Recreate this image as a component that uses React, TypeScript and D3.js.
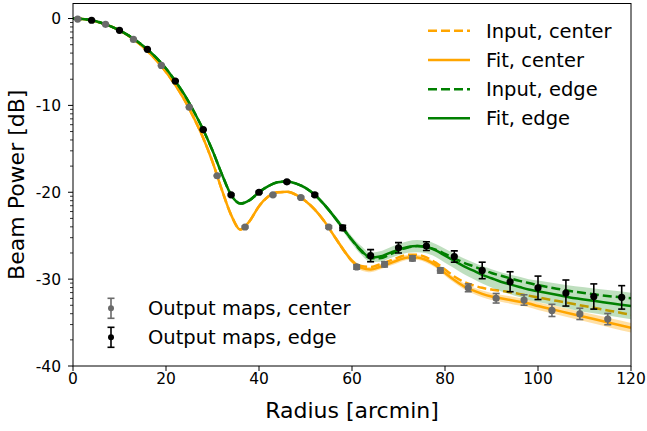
import React from 'react';
import * as d3 from 'd3';

// Model curves, sampled in radius (arcmin)
const fitRadius = [0,2,4,6,8,10,12,14,16,18,20,22,24,26,28,30,32,34,36,38,40,42,44,46,48,50,52,54,56,58,60,62,64,66,68,70,72,74,76,78,80,82,84,86,88,90,92,94,96,98,100,104,108,112,116,120];

const fitCenter = [0,-0.05,-0.22,-0.5,-0.88,-1.38,-2.0,-2.8,-3.75,-4.85,-6.15,-7.65,-9.4,-11.45,-13.75,-16.5,-19.7,-22.6,-24.3,-23.3,-21.6,-20.5,-20.0,-19.95,-20.3,-21.0,-22.0,-23.3,-24.9,-26.5,-27.9,-28.7,-28.9,-28.6,-28.2,-27.8,-27.5,-27.5,-27.8,-28.4,-29.3,-30.1,-30.8,-31.3,-31.7,-32.0,-32.2,-32.4,-32.6,-32.8,-33.1,-33.6,-34.1,-34.6,-35.1,-35.6];

const inputCenter = [0,-0.05,-0.22,-0.5,-0.88,-1.38,-2.0,-2.8,-3.75,-4.85,-6.15,-7.65,-9.4,-11.45,-13.75,-16.5,-19.7,-22.6,-24.3,-23.3,-21.6,-20.5,-20.0,-19.95,-20.3,-21.0,-22.0,-23.3,-24.9,-26.5,-27.9,-28.5,-28.6,-28.3,-27.9,-27.5,-27.2,-27.2,-27.5,-28.1,-28.9,-29.7,-30.3,-30.7,-31.0,-31.2,-31.35,-31.5,-31.7,-31.9,-32.1,-32.5,-32.9,-33.3,-33.7,-34.1];

const fitEdge = [0,-0.05,-0.2,-0.48,-0.87,-1.36,-1.97,-2.7,-3.55,-4.55,-5.75,-7.2,-8.8,-10.7,-12.8,-15.2,-17.9,-20.3,-21.3,-20.9,-20.0,-19.3,-18.85,-18.75,-19.0,-19.5,-20.3,-21.4,-22.7,-24.1,-25.5,-26.7,-27.5,-27.4,-27.0,-26.6,-26.3,-26.2,-26.3,-26.7,-27.3,-27.9,-28.5,-29.0,-29.5,-29.9,-30.3,-30.6,-30.9,-31.2,-31.4,-31.8,-32.2,-32.5,-32.8,-33.1];

const inputEdge = [0,-0.05,-0.2,-0.48,-0.87,-1.36,-1.97,-2.7,-3.55,-4.55,-5.75,-7.2,-8.8,-10.7,-12.8,-15.2,-17.9,-20.3,-21.3,-20.9,-20.0,-19.3,-18.85,-18.75,-19.0,-19.5,-20.3,-21.4,-22.7,-24.1,-25.5,-26.8,-27.6,-27.6,-27.2,-26.7,-26.35,-26.2,-26.3,-26.6,-27.1,-27.6,-28.1,-28.5,-28.9,-29.3,-29.6,-29.9,-30.2,-30.45,-30.7,-31.1,-31.45,-31.75,-32.0,-32.2];

// Half-width of the fit uncertainty bands (dB)
const bandCenter = [0.1,0.1,0.1,0.1,0.1,0.1,0.1,0.1,0.1,0.1,0.1,0.1,0.1,0.1,0.1,0.1,0.1,0.1,0.1,0.1,0.1,0.1,0.1,0.1,0.1,0.12,0.15,0.18,0.2,0.25,0.28,0.3,0.3,0.3,0.3,0.3,0.3,0.3,0.3,0.3,0.32,0.33,0.35,0.36,0.38,0.4,0.4,0.42,0.43,0.44,0.45,0.47,0.5,0.52,0.54,0.55];

const bandEdge = [0.12,0.12,0.12,0.12,0.12,0.12,0.12,0.12,0.12,0.12,0.12,0.12,0.12,0.12,0.12,0.12,0.12,0.12,0.12,0.12,0.12,0.12,0.12,0.12,0.12,0.15,0.2,0.25,0.3,0.35,0.42,0.5,0.55,0.6,0.62,0.65,0.67,0.7,0.72,0.75,0.8,0.85,0.9,0.95,1.0,1.05,1.1,1.13,1.16,1.2,1.23,1.3,1.37,1.43,1.48,1.52];

// Output map measurements
const centerRadius = [1,7,13,19,25,31,37,43,49,55,61,67,73,79,85,91,97,103,109,115];
const centerPower = [-0.06,-0.67,-2.4,-5.4,-10.2,-18.1,-24.0,-20.3,-20.6,-24.0,-28.6,-28.3,-27.6,-29.0,-31.0,-32.2,-32.4,-33.6,-34.0,-34.6];
const centerErr = [0.05,0.05,0.05,0.05,0.05,0.05,0.1,0.1,0.1,0.15,0.25,0.3,0.3,0.3,0.45,0.55,0.6,0.7,0.65,0.65];

const edgeRadius = [4,10,16,22,28,34,40,46,52,58,64,70,76,82,88,94,100,106,112,118];
const edgePower = [-0.2,-1.36,-3.55,-7.2,-12.8,-20.3,-20.0,-18.8,-20.3,-24.1,-27.3,-26.4,-26.2,-27.4,-29.0,-30.3,-31.0,-31.6,-32.0,-32.1];
const edgeErr = [0.05,0.05,0.05,0.05,0.05,0.1,0.1,0.1,0.15,0.3,0.7,0.6,0.5,0.65,0.95,1.15,1.35,1.5,1.45,1.35];

const xTicks = [0,20,40,60,80,100,120];
const yTicks = [0,-10,-20,-30,-40];
const yDecades = [0,-10,-20,-30];
const minorFactors = [2,3,4,5,6,7,8,9];

const legendLines = ['Input, center','Fit, center','Input, edge','Fit, edge'];
const legendPoints = ['Output maps, center','Output maps, edge'];

const ORANGE = '#ffa500';
const GREEN = '#008000';
const GRAY = '#6a6a6a';
const FONT = 'DejaVu Sans, sans-serif';

export default function App() {
  const W = 647, H = 431;
  const L = 73, R = 631, T = 3.5, B = 366;
  const x = d3.scaleLinear().domain([0, 120]).range([L, R]);
  const y = d3.scaleLinear().domain([-40, 1.73]).range([B, T]);

  const mkLine = (vals: number[]) =>
    d3.line<number>().x((_, i) => x(fitRadius[i])).y(d => y(d)).curve(d3.curveMonotoneX)(vals) || '';
  const mkBand = (vals: number[], hw: number[]) =>
    d3.area<number>()
      .x((_, i) => x(fitRadius[i]))
      .y0((d, i) => y(d - hw[i]))
      .y1((d, i) => y(d + hw[i]))
      .curve(d3.curveMonotoneX)(vals) || '';

  const minorTicks: number[] = [];
  yDecades.forEach(d => minorFactors.forEach(k => minorTicks.push(d + 10 * Math.log10(k / 10))));

  const errPts = (rs: number[], ps: number[], es: number[], color: string) =>
    rs.map((r, i) => {
      const cx = x(r), cy = y(ps[i]);
      const y0 = y(ps[i] - es[i]), y1 = y(ps[i] + es[i]);
      return (
        <g key={i}>
          <line x1={cx} x2={cx} y1={y0} y2={y1} stroke={color} strokeWidth={1.6} />
          <line x1={cx - 3.5} x2={cx + 3.5} y1={y0} y2={y0} stroke={color} strokeWidth={1.6} />
          <line x1={cx - 3.5} x2={cx + 3.5} y1={y1} y2={y1} stroke={color} strokeWidth={1.6} />
          <circle cx={cx} cy={cy} r={3.6} fill={color} />
        </g>
      );
    });

  const legendStyles = [
    { color: ORANGE, dash: '9,4' },
    { color: ORANGE, dash: undefined },
    { color: GREEN, dash: '9,4' },
    { color: GREEN, dash: undefined },
  ];
  const legendRowsY = [30.7, 60, 89.3, 118.3];
  const pointRowsY = [308.3, 337.3];
  const pointColors = [GRAY, '#000000'];

  return (
    <svg width={W} height={H} style={{ position: 'absolute', left: 0, top: 0, background: '#fff' }} fontFamily={FONT}>
      <defs>
        <clipPath id="plotclip">
          <rect x={L} y={T} width={R - L} height={B - T} />
        </clipPath>
      </defs>
      <rect x={0} y={0} width={W} height={H} fill="#fff" />
      <g clipPath="url(#plotclip)">
        <path d={mkBand(fitCenter, bandCenter)} fill={ORANGE} opacity={0.35} />
        <path d={mkLine(inputCenter)} fill="none" stroke={ORANGE} strokeWidth={2.5} strokeDasharray="9,4" />
        <path d={mkLine(fitCenter)} fill="none" stroke={ORANGE} strokeWidth={2.5} />
        <path d={mkBand(fitEdge, bandEdge)} fill={GREEN} opacity={0.25} />
        <path d={mkLine(inputEdge)} fill="none" stroke={GREEN} strokeWidth={2.5} strokeDasharray="9,4" />
        <path d={mkLine(fitEdge)} fill="none" stroke={GREEN} strokeWidth={2.5} />
        {errPts(centerRadius, centerPower, centerErr, GRAY)}
        {errPts(edgeRadius, edgePower, edgeErr, '#000')}
      </g>
      {/* axes frame */}
      <rect x={L} y={T} width={R - L} height={B - T} fill="none" stroke="#000" strokeWidth={1} />
      {/* x ticks */}
      {xTicks.map(t => (
        <g key={t}>
          <line x1={x(t)} x2={x(t)} y1={B} y2={B + 5} stroke="#000" strokeWidth={1} />
          <text x={x(t)} y={384} fontSize={15.5} textAnchor="middle" fill="#000">{t}</text>
        </g>
      ))}
      {/* y ticks */}
      {yTicks.map(t => (
        <g key={t}>
          <line x1={L - 5} x2={L} y1={y(t)} y2={y(t)} stroke="#000" strokeWidth={1} />
          <text x={61} y={y(t) + 5.5} fontSize={15.5} textAnchor="end" fill="#000">{t === 0 ? '0' : '-' + Math.abs(t)}</text>
        </g>
      ))}
      {minorTicks.map((t, i) => (
        <line key={i} x1={L - 3} x2={L} y1={y(t)} y2={y(t)} stroke="#000" strokeWidth={0.8} />
      ))}
      {/* axis labels */}
      <text x={(L + R) / 2} y={418} fontSize={22} textAnchor="middle" fill="#000">Radius [arcmin]</text>
      <text transform={`translate(24,${(T + B) / 2}) rotate(-90)`} fontSize={22} textAnchor="middle" fill="#000">Beam Power [dB]</text>
      {/* legend: lines */}
      {legendLines.map((s, i) => (
        <g key={s}>
          <line x1={428} x2={470} y1={legendRowsY[i]} y2={legendRowsY[i]} stroke={legendStyles[i].color} strokeWidth={2.5} strokeDasharray={legendStyles[i].dash} />
          <text x={486} y={legendRowsY[i] + 7} fontSize={19.5} fill="#000">{s}</text>
        </g>
      ))}
      {/* legend: points */}
      {legendPoints.map((s, i) => {
        const cy = pointRowsY[i];
        const c = pointColors[i];
        return (
          <g key={s}>
            <line x1={111} x2={111} y1={cy - 10} y2={cy + 10} stroke={c} strokeWidth={1.6} />
            <line x1={107.5} x2={114.5} y1={cy - 10} y2={cy - 10} stroke={c} strokeWidth={1.6} />
            <line x1={107.5} x2={114.5} y1={cy + 10} y2={cy + 10} stroke={c} strokeWidth={1.6} />
            <circle cx={111} cy={cy} r={3} fill={c} />
            <text x={148} y={cy + 7} fontSize={19.5} fill="#000">{s}</text>
          </g>
        );
      })}
    </svg>
  );
}
